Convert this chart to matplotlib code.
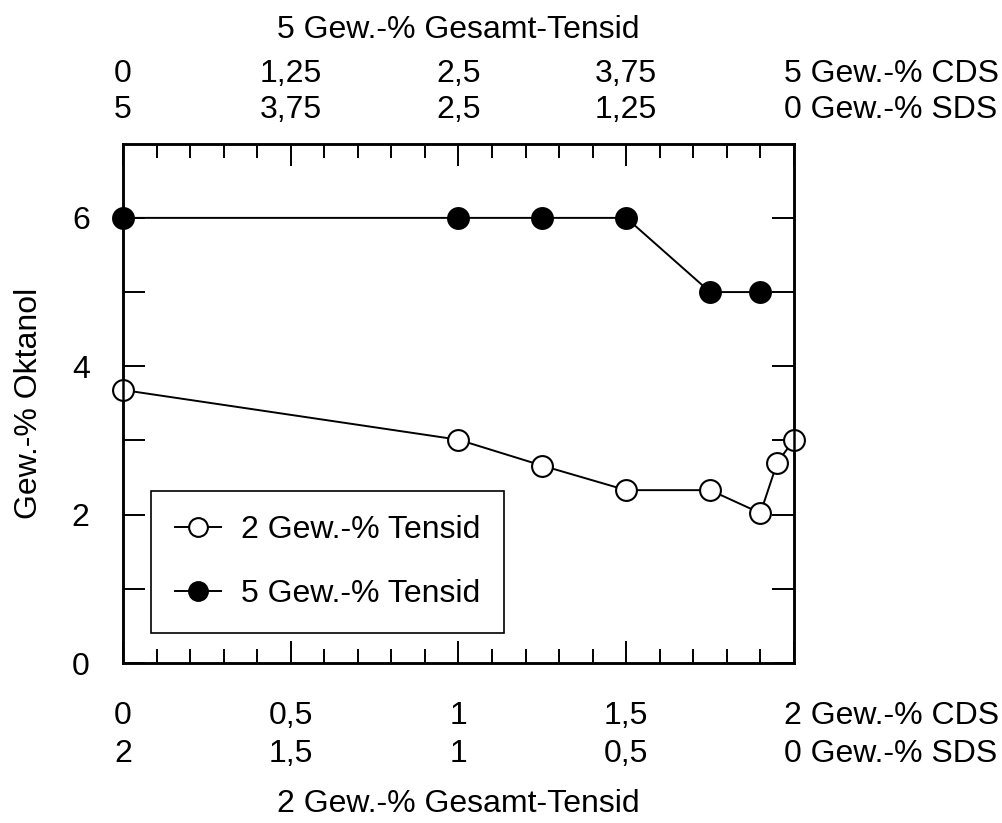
import matplotlib.pyplot as plt
from matplotlib.ticker import MultipleLocator
from matplotlib.transforms import blended_transform_factory

plt.rcParams['font.family'] = ['Liberation Sans', 'DejaVu Sans']

# 2 Gew.-% Tensid: CDS content (Gew.-%) vs. Oktanol (Gew.-%)
cds_2 = [0, 1.0, 1.25, 1.5, 1.75, 1.9, 1.95, 2.0]
okt_2 = [3.68, 3.01, 2.66, 2.33, 2.33, 2.02, 2.70, 3.01]

# 5 Gew.-% Tensid: CDS content (Gew.-%) vs. Oktanol (Gew.-%)
cds_5 = [0, 2.5, 3.125, 3.75, 4.375, 4.75]
okt_5 = [6, 6, 6, 6, 5, 5]

bottom_cds = ["0", "0,5", "1", "1,5"]
bottom_sds = ["2", "1,5", "1", "0,5"]
top_cds = ["0", "1,25", "2,5", "3,75"]
top_sds = ["5", "3,75", "2,5", "1,25"]
ytick_labels = ["0", "", "2", "", "4", "", "6"]

fs = 23

fig = plt.figure(figsize=(10.03, 8.23), dpi=100)
ax = fig.add_axes([0.1226, 0.1944, 0.669, 0.631])
ax2 = ax.twiny()

l2, = ax.plot(cds_2, okt_2, color="black", lw=1.4, marker="o", ms=15,
              mfc="white", mec="black", mew=1.5, clip_on=False, zorder=3)
l5, = ax2.plot(cds_5, okt_5, color="black", lw=1.4, marker="o", ms=15,
               mfc="black", mec="black", mew=1.5, clip_on=False, zorder=3)

ax.set_xlim(0, 2)
ax2.set_xlim(0, 5)
ax.set_ylim(0, 7)

ax.xaxis.set_major_locator(MultipleLocator(0.5))
ax.xaxis.set_minor_locator(MultipleLocator(0.1))
ax.set_yticks(range(7))
ax.set_yticklabels(ytick_labels, fontsize=fs)
ax.tick_params(axis="x", which="both", direction="in", top=True, bottom=True,
               labelbottom=False, labeltop=False, width=1.4)
ax.tick_params(axis="x", which="major", length=16)
ax.tick_params(axis="x", which="minor", length=10)
ax.tick_params(axis="y", direction="in", left=True, right=True, length=16,
               width=1.4, pad=24)
ax2.set_xticks([])
for a in (ax, ax2):
    for sp in a.spines.values():
        sp.set_linewidth(1.8)

ax.set_ylabel("Gew.-% Oktanol", fontsize=fs, labelpad=20)

# axis annotation rows (x in data, y in figure pixels from top)
tr = blended_transform_factory(ax.transData, fig.transFigure)


def put(x, ypix, s, ha="center"):
    ax.text(x, 1 - ypix / 823, s, transform=tr, ha=ha, va="center", fontsize=fs)


xpos = [0, 0.5, 1.0, 1.5]
for x, a, b in zip(xpos, top_cds, top_sds):
    put(x, 74, a)
    put(x, 110, b)
for x, a, b in zip(xpos, bottom_cds, bottom_sds):
    put(x, 716, a)
    put(x, 754, b)
put(1.97, 74, "5 Gew.-% CDS", ha="left")
put(1.97, 110, "0 Gew.-% SDS", ha="left")
put(1.97, 716, "2 Gew.-% CDS", ha="left")
put(1.97, 754, "0 Gew.-% SDS", ha="left")
put(1.0, 30, "5 Gew.-% Gesamt-Tensid")
put(1.0, 804, "2 Gew.-% Gesamt-Tensid")

leg = ax2.legend([l2, l5], ["2 Gew.-% Tensid", "5 Gew.-% Tensid"], fontsize=fs,
                 loc="lower left", bbox_to_anchor=(0.042, 0.058), borderaxespad=0,
                 fancybox=False, framealpha=1, edgecolor="black",
                 handlelength=1.45, handletextpad=0.6, labelspacing=1.05,
                 borderpad=0.75, markerscale=0.9)
leg.get_frame().set_linewidth(1.2)

fig.savefig("out.png", dpi=100)
